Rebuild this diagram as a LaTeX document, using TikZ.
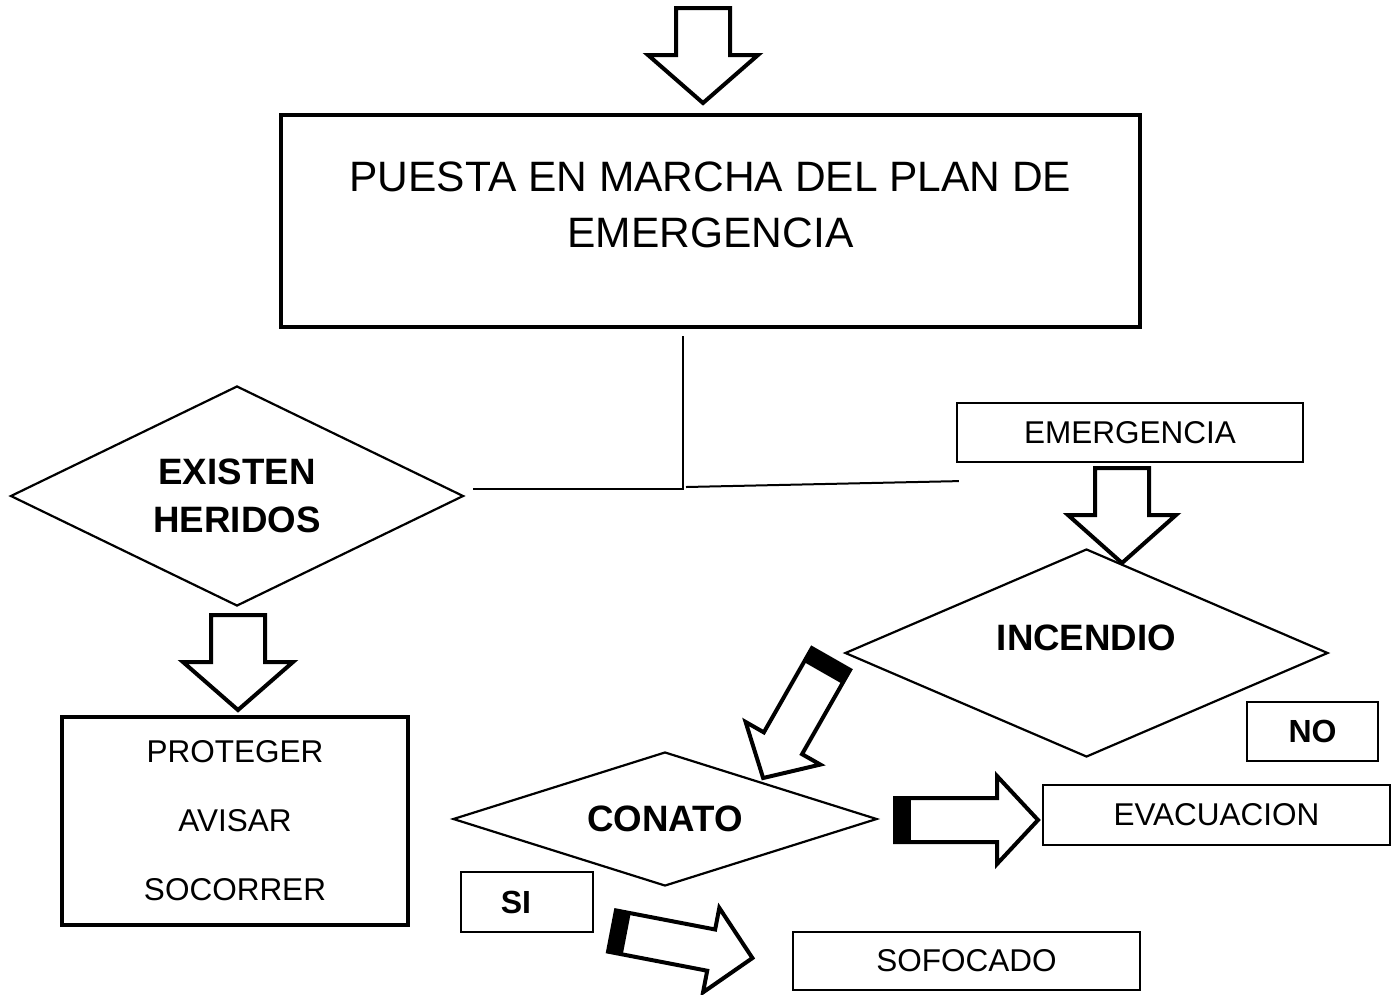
\documentclass[tikz,border=0pt]{standalone}
\usepackage{fontspec}
\setmainfont{Liberation Sans}
\usetikzlibrary{calc,shapes.geometric}
\tikzset{
% Boxes, decisions and hollow block arrows of the chart
thick box/.style={rectangle,draw,line width=4.5pt,inner sep=0},
thin box/.style={rectangle,draw,line width=2.2pt,inner sep=0,font=\fontsize{31.5}{38}\selectfont},
decision/.style={diamond,draw,line width=2.2pt,inner sep=0,align=center,font=\bfseries\fontsize{36.7}{48}\selectfont},
conn/.style={line width=2pt},
pics/blockarrow/.style n args={5}{code={
  \draw[line width=4pt,fill=white] (0,-#2) -- (#1-#4,-#2) -- (#1-#4,-#3) -- (#1,0) -- (#1-#4,#3) -- (#1-#4,#2) -- (0,#2) -- cycle;
  \fill (0,-#2) rectangle (#5,#2);
}}
}
\begin{document}
\begin{tikzpicture}[x=1pt,y=-1pt]
\useasboundingbox (0,0) rectangle (1394,994);
\node[thick box,minimum width=859pt,minimum height=212pt,label={[yshift=16pt,align=center,font=\fontsize{42.5}{56}\selectfont]center:{PUESTA EN MARCHA DEL PLAN DE\\EMERGENCIA}}] (plan) at (710.5,221) {};
\node[decision,minimum width=453pt,minimum height=220pt,shape aspect=2.06] (heridos) at (237,496) {EXISTEN\\HERIDOS};
\node[thick box,minimum width=346pt,minimum height=208pt,align=center,font=\fontsize{31.5}{69}\selectfont] (proteger) at (235,821) {PROTEGER\\AVISAR\\SOCORRER};
\node[thin box,minimum width=346pt,minimum height=59pt] (emerg) at (1130,432.5) {EMERGENCIA};
\node[decision,minimum width=483pt,minimum height=208pt,shape aspect=2.32,label={[yshift=15pt,font=\bfseries\fontsize{36.7}{48}\selectfont]center:INCENDIO}] (incendio) at (1086.5,653) {};
\node[thin box,minimum width=131pt,minimum height=59pt,font=\bfseries\fontsize{32}{38}\selectfont] (no) at (1312.5,731.5) {NO};
\node[decision,minimum width=424pt,minimum height=134pt,shape aspect=3.16] (conato) at (665,819) {CONATO};
\node[thin box,minimum width=347pt,minimum height=60pt] (evac) at (1216.5,815) {EVACUACION};
\node[thin box,minimum width=132pt,minimum height=60pt,label={[xshift=-11pt,font=\bfseries\fontsize{32}{38}\selectfont]center:SI}] (si) at (527,902) {};
\node[thin box,minimum width=347pt,minimum height=58pt] (sofocado) at (966.5,961) {SOFOCADO};

\coordinate (junc) at (683,489);
\draw[conn] ($(plan.south)+(-27.5,7)$) -- (junc) -- ($(heridos.east)+(8,-7)$);
\draw[conn] ($(junc)+(3,-2)$) -- ($(emerg.south west)+(3,18)$);

\pic[rotate=-90] at (703,8) {blockarrow={95}{27}{55}{48}{0}};
\pic[rotate=-90] at (238,615) {blockarrow={95}{27}{55}{48}{0}};
\pic[rotate=-90] at (1122,468) {blockarrow={95}{27}{54}{48}{0}};
\pic[rotate=240.3] at (831,659) {blockarrow={137}{22}{43}{40}{16}};
\pic at (895,820) {blockarrow={143}{22}{44}{41}{16}};
\pic[rotate=-10.9] at (612,931) {blockarrow={143}{21}{43}{42}{15}};
\end{tikzpicture}
\end{document}
